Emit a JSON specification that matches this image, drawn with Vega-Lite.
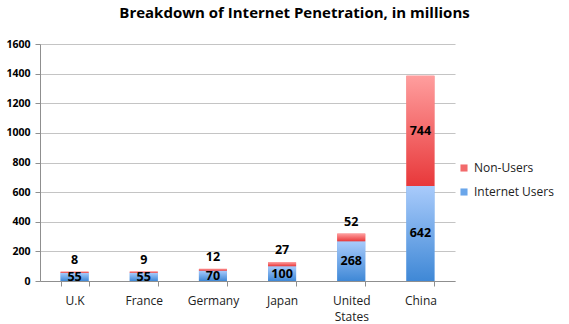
{
  "$schema": "https://vega.github.io/schema/vega-lite/v6.json",
  "width": 415,
  "height": 237,
  "autosize": "none",
  "padding": {"left": 40, "top": 44, "right": 114, "bottom": 43},
  "background": "white",
  "config": {"view": {"stroke": null}, "font": "Open Sans"},
  "title": {"text": "Breakdown of Internet Penetration, in millions", "fontSize": 15, "fontWeight": "bold", "font": "Open Sans", "color": "#000000", "anchor": "middle", "dx": 47, "offset": 18},
  "data": {"values": [
    {"country": "U.K", "series": "Internet Users", "value": 55},
    {"country": "U.K", "series": "Non-Users", "value": 8},
    {"country": "France", "series": "Internet Users", "value": 55},
    {"country": "France", "series": "Non-Users", "value": 9},
    {"country": "Germany", "series": "Internet Users", "value": 70},
    {"country": "Germany", "series": "Non-Users", "value": 12},
    {"country": "Japan", "series": "Internet Users", "value": 100},
    {"country": "Japan", "series": "Non-Users", "value": 27},
    {"country": "United States", "series": "Internet Users", "value": 268},
    {"country": "United States", "series": "Non-Users", "value": 52},
    {"country": "China", "series": "Internet Users", "value": 642},
    {"country": "China", "series": "Non-Users", "value": 744}
  ]},
  "transform": [
    {"stack": "value", "groupby": ["country"], "sort": [{"field": "series", "order": "ascending"}], "as": ["y0", "y1"]}
  ],
  "encoding": {
    "x": {"field": "country", "type": "nominal", "sort": ["U.K", "France", "Germany", "Japan", "United States", "China"],
      "scale": {"paddingInner": 0.595, "paddingOuter": 0.2975},
      "axis": {"title": null, "labelAngle": 0, "labelFont": "Open Sans", "labelFontSize": 12, "labelColor": "#222222", "labelPadding": 9, "domainColor": "#8f8f8f", "tickColor": "#8f8f8f", "tickBand": "extent", "tickSize": 5,
        "labelExpr": "datum.label == 'United States' ? ['United', 'States'] : datum.label", "labelLineHeight": 16}},
    "y": {"field": "y1", "type": "quantitative",
      "scale": {"domain": [0, 1600], "nice": false},
      "axis": {"title": null, "format": "d", "values": [0, 200, 400, 600, 800, 1000, 1200, 1400, 1600], "labelFont": "Open Sans", "labelFontWeight": "bold", "labelFontSize": 10.5, "labelColor": "#000000", "labelPadding": 5, "domain": true, "domainColor": "#8f8f8f", "domainWidth": 1, "tickColor": "#8f8f8f", "tickSize": 5, "gridColor": "#c4c4c4", "gridWidth": 1.2}},
    "y2": {"field": "y0"}
  },
  "layer": [
    {
      "mark": {"type": "bar"},
      "encoding": {
        "color": {"field": "series", "type": "nominal",
          "scale": {"domain": ["Non-Users", "Internet Users"], "range": ["#f26a6b", "#6aa6ea"]},
          "legend": {"title": null, "orient": "none", "legendX": 418, "legendY": 118, "symbolType": "square", "symbolSize": 50, "labelFont": "Open Sans", "labelFontSize": 12, "labelColor": "#222222", "rowPadding": 12, "labelOffset": 4}}
      }
    },
    {
      "transform": [{"filter": "datum.series == 'Internet Users'"}],
      "mark": {"type": "bar", "color": {"gradient": "linear", "x1": 0, "y1": 0, "x2": 0, "y2": 1, "stops": [{"offset": 0, "color": "#a9cbfb"}, {"offset": 1, "color": "#3f88d6"}]}}
    },
    {
      "transform": [{"filter": "datum.series == 'Non-Users'"}],
      "mark": {"type": "bar", "color": {"gradient": "linear", "x1": 0, "y1": 0, "x2": 0, "y2": 1, "stops": [{"offset": 0, "color": "#ff9e9e"}, {"offset": 1, "color": "#e8383a"}]}}
    },
    {
      "transform": [{"filter": "datum.series == 'Internet Users' || datum.country == 'China'"}],
      "mark": {"type": "text", "font": "Open Sans", "fontWeight": "bold", "fontSize": 12.5, "color": "#000000", "baseline": "middle",
        "dy": {"expr": "(scale('y', datum.y0) - scale('y', datum.y1)) / 2"}},
      "encoding": {
        "y2": null,
        "text": {"field": "value"}
      }
    },
    {
      "transform": [{"filter": "datum.series == 'Non-Users' && datum.country != 'China'"}],
      "mark": {"type": "text", "font": "Open Sans", "fontWeight": "bold", "fontSize": 12.5, "color": "#000000", "baseline": "bottom", "dy": -5},
      "encoding": {
        "y2": null,
        "text": {"field": "value"}
      }
    }
  ]
}
